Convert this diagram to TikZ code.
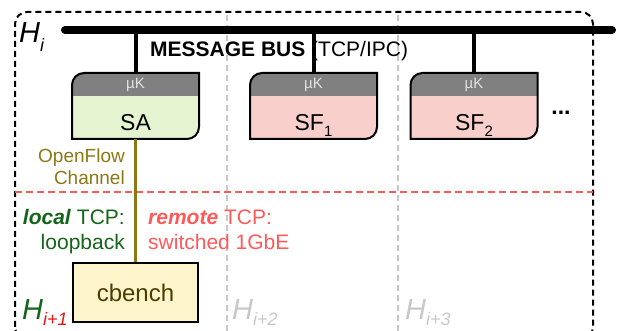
\documentclass[tikz,border=0pt]{standalone}
\usepackage{fontspec}
\setmainfont{Liberation Sans}
\usepackage{xcolor}
\usetikzlibrary{positioning, calc}
\definecolor{sagreen}{RGB}{230,243,208}
\definecolor{sfpink}{RGB}{248,207,203}
\definecolor{ukgray}{RGB}{128,128,128}
\definecolor{uktext}{RGB}{225,225,225}
\definecolor{ofolive}{RGB}{139,120,20}
\definecolor{localgreen}{RGB}{20,100,25}
\definecolor{remotered}{RGB}{255,90,90}
\definecolor{subred}{RGB}{230,20,20}
\definecolor{hostgray}{RGB}{200,200,200}
\definecolor{cbfill}{RGB}{255,245,205}
\definecolor{cbtext}{RGB}{75,60,0}

\newcommand{\svcfont}{\fontsize{23}{23}\selectfont}
\newcommand{\hfont}{\fontsize{29}{29}\selectfont\itshape}
\newcommand{\hsub}[2][9pt]{\raisebox{-#1}{\fontsize{18}{18}\selectfont #2}}
\newcommand{\svcoutline}{(-63.5,-33) -- (-63.5,21) arc[start angle=180, end angle=90, radius=12] -- (63.5,33) -- (63.5,-21) arc[start angle=0, end angle=-90, radius=12] -- cycle}

\tikzset{
  pics/service/.style 2 args={code={
    \fill[#1] \svcoutline;
    \begin{scope}
      \clip \svcoutline;
      \fill[ukgray] (-64,10) rectangle (64,34);
    \end{scope}
    \draw[line width=2pt] \svcoutline;
    \node[font=\fontsize{15}{15}\selectfont, text=uktext] (-uk) at (0,21.5) {µK};
    \node[anchor=base, font=\svcfont] (-name) at (0,-25) {#2};
    \coordinate (-top) at (0,33);
    \coordinate (-bottom) at (0,-33);
  }}
}

\begin{document}
\begin{tikzpicture}[x=1pt, y=1pt,
    every node/.style={inner sep=0pt},
    hostline/.style={draw=hostgray, line width=1.5pt, dash pattern=on 6pt off 4pt},
    stub/.style={line width=4pt},
    ofchan/.style={draw=ofolive, line width=3pt}]
    \useasboundingbox (0,0) rectangle (621,331);

    % host boundaries
    \draw[hostline] (227,0) -- (227,319);
    \draw[hostline] (398,0) -- (398,319);
    \draw[line width=2pt, dash pattern=on 6pt off 4pt, rounded corners=12pt] (15,-8) rectangle (593,319);
    \draw[draw=remotered, line width=2.5pt, dash pattern=on 7pt off 4pt] (15,139) -- (593,139);

    % message bus
    \coordinate (bus-l) at (65,301);
    \coordinate (bus-r) at (612,301);
    \draw[line width=8pt, line cap=round] (bus-l) -- (bus-r);
    \node[anchor=base west, font=\fontsize{21}{21}\selectfont] (busname) at (150,274) {\textbf{MESSAGE BUS} (TCP/IPC)};

    % services on H_i
    \pic (sa) at (135.5,225) {service={sagreen}{SA}};
    \pic (sf1) at (313.5,225) {service={sfpink}{SF\hsub[6pt]{\fontsize{15}{15}\selectfont 1}}};
    \pic (sf2) at (474,225) {service={sfpink}{SF\hsub[6pt]{\fontsize{15}{15}\selectfont 2}}};
    \node[anchor=base, font=\svcfont\bfseries] (more) at (561,216) {...};
    \foreach \s in {sa, sf1, sf2}
        \draw[stub] (\s-top) -- (\s-top |- bus-l);

    % controller benchmark on H_{i+1}
    \node[draw, line width=1.2pt, fill=cbfill, minimum width=125pt, minimum height=59pt,
          font=\fontsize{24}{24}\selectfont, text=cbtext] (cb) at (135.5,38.5) {cbench};
    \draw[ofchan] (sa-bottom) -- (cb.north);
    \node[anchor=base east, align=right, font=\fontsize{19}{22}\selectfont, text=ofolive] (ofc) at (125,146) {OpenFlow\\Channel};
    \node[anchor=base east, align=right, font=\fontsize{21}{25}\selectfont, text=localgreen] (loc) at (125,81) {\textbf{\textit{local}} TCP:\\loopback};
    \node[anchor=base west, align=left, font=\fontsize{21}{25}\selectfont, text=remotered] (rem) at (148,81) {\textbf{\textit{remote}} TCP:\\switched 1GbE};

    % host labels
    \node[anchor=base west, font=\hfont] (hi) at (19,288) {H\hsub{i}};
    \node[anchor=base west, font=\hfont, text=localgreen] (hi1) at (22,11) {H\hsub[6pt]{\color{subred}i+1}};
    \node[anchor=base west, font=\hfont, text=hostgray] (hi2) at (232,11) {H\hsub[6pt]{i+2}};
    \node[anchor=base west, font=\hfont, text=hostgray] (hi3) at (405,11) {H\hsub[6pt]{i+3}};
\end{tikzpicture}
\end{document}
